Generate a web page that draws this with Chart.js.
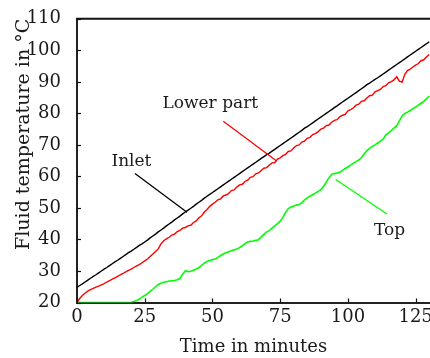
<!DOCTYPE html>
<html>
<head>
<meta charset="utf-8">
<script src="https://cdn.jsdelivr.net/npm/chart.js@4/dist/chart.umd.min.js"></script>
<style>
html,body{margin:0;padding:0;background:#fff;overflow:hidden;}
#wrap{width:430px;height:358px;}
</style>
</head>
<body>
<div id="wrap"><canvas id="c" width="430" height="358"></canvas></div>
<script>
// time in minutes
const minutes = [0,1,2,3,4,5,6,7,8,9,10,11,12,13,14,15,16,17,18,19,20,21,22,23,24,25,26,27,28,29,30,31,32,33,34,35,36,37,38,39,40,41,42,43,44,45,46,47,48,49,50,51,52,53,54,55,56,57,58,59,60,61,62,63,64,65,66,67,68,69,70,71,72,73,74,75,76,77,78,79,80,81,82,83,84,85,86,87,88,89,90,91,92,93,94,95,96,97,98,99,100,101,102,103,104,105,106,107,108,109,110,111,112,113,114,115,116,117,118,119,120,121,122,123,124,125,126,127,128,129,130];

const inlet = [24.8,25.4,25.9,26.5,27.1,27.7,28.3,28.8,29.4,30.0,30.6,31.1,31.7,32.3,32.9,33.4,34.0,34.6,35.2,35.8,36.3,36.9,37.5,38.1,38.6,39.2,39.8,40.5,41.1,41.7,42.4,43.0,43.6,44.3,44.9,45.5,46.2,46.8,47.4,48.1,48.7,49.3,49.9,50.5,51.2,51.8,52.4,53.1,53.7,54.3,54.9,55.5,56.1,56.7,57.3,57.9,58.5,59.1,59.7,60.3,60.9,61.5,62.1,62.7,63.3,63.9,64.5,65.1,65.7,66.3,66.9,67.4,68.0,68.6,69.2,69.8,70.4,71.0,71.6,72.2,72.8,73.4,74.0,74.6,75.3,75.8,76.4,77.0,77.6,78.2,78.8,79.4,80.0,80.6,81.2,81.8,82.4,83.0,83.6,84.2,84.8,85.4,86.0,86.6,87.2,87.8,88.4,89.1,89.6,90.2,90.8,91.3,91.9,92.5,93.1,93.7,94.3,94.9,95.5,96.1,96.7,97.3,97.9,98.5,99.1,99.7,100.3,100.9,101.5,102.1,102.7];

const lowerPart = [20.0,21.3,22.2,23.0,23.6,24.1,24.5,24.9,25.2,25.6,26.0,26.5,26.9,27.4,27.8,28.3,28.8,29.2,29.7,30.2,30.6,31.1,31.6,32.0,32.6,33.2,33.8,34.6,35.4,36.2,37.0,38.6,39.6,40.2,40.7,41.4,41.7,42.5,42.9,43.6,43.8,44.3,44.5,45.4,45.9,46.9,47.5,48.7,49.5,50.5,51.2,51.8,52.6,52.9,53.8,54.1,54.6,55.5,55.7,56.6,57.3,57.5,58.4,58.8,59.7,59.9,60.8,61.1,61.9,62.6,62.8,63.6,64.3,64.4,65.5,65.9,66.6,67.0,67.9,68.1,69.0,69.8,70.0,70.9,71.2,72.1,72.4,73.3,73.6,74.2,75.0,75.3,76.1,76.3,77.2,77.8,78.0,78.9,79.4,79.7,80.8,81.2,81.7,82.6,82.9,83.8,84.0,84.9,85.6,85.8,86.8,87.2,87.6,88.5,88.8,89.7,90.1,90.6,91.6,90.2,89.9,92.4,93.6,94.0,94.7,95.3,95.8,96.7,97.0,97.9,98.7];

const top_ = [20.0,20.0,20.0,20.0,20.0,20.0,20.0,20.0,20.0,20.0,20.0,20.0,20.0,20.0,20.0,20.0,20.0,20.0,20.0,20.0,20.1,20.3,20.6,21.1,21.7,22.2,22.8,23.5,24.2,25.0,25.7,26.1,26.4,26.6,26.8,26.9,27.0,27.2,27.6,29.0,30.1,29.8,29.9,30.2,30.6,31.1,31.8,32.5,33.0,33.3,33.6,33.8,34.3,34.9,35.4,35.8,36.1,36.4,36.7,37.0,37.4,38.0,38.7,39.2,39.4,39.5,39.7,39.9,40.8,41.6,42.4,42.8,43.6,44.3,45.0,45.8,47.0,48.6,49.8,50.3,50.6,50.9,51.1,51.7,52.6,53.2,53.7,54.2,54.7,55.2,55.8,56.8,58.2,59.6,60.6,60.9,61.1,61.3,61.9,62.5,63.0,63.6,64.2,64.7,65.2,66.0,67.1,68.2,68.9,69.5,70.0,70.6,71.2,71.8,73.2,73.8,74.5,75.3,76.0,77.6,79.2,80.0,80.4,80.9,81.5,82.0,82.6,83.2,83.8,84.6,85.5];

const seriesNames = ["Inlet", "Lower part", "Top"];
const xTicks = [0, 25, 50, 75, 100, 125];
const yTicks = [20, 30, 40, 50, 60, 70, 80, 90, 100, 110];

// callouts in data units
const callouts = [
  {text: "Inlet", color: "#000000", tx: 20.1, ty: 64.6, x1: 21.4, y1: 60.9, x2: 40.6, y2: 48.6},
  {text: "Lower part", color: "#ff0000", tx: 49.2, ty: 83.0, x1: 54.0, y1: 77.5, x2: 73.7, y2: 64.9},
  {text: "Top", color: "#00ff00", tx: 115.4, ty: 42.9, x1: 95.5, y1: 59.0, x2: 114.4, y2: 48.1}
];

const FONT = "'DejaVu Serif', serif";
const TXT = "#1a1a1a";

function pts(vals){ return minutes.map((m,i)=>({x:m, y:vals[i]})); }

const decor = {
  id: 'decor',
  afterDatasetsDraw(chart){
    const ctx = chart.ctx, a = chart.chartArea;
    const xs = chart.scales.x, ys = chart.scales.y;
    ctx.save();
    ctx.strokeStyle = "#111"; ctx.lineWidth = 2;
    ctx.beginPath(); ctx.moveTo(a.left - 1, a.top); ctx.lineTo(a.right, a.top); ctx.stroke();
    ctx.lineWidth = 1.2;
    xTicks.forEach(v=>{ const px = Math.round(xs.getPixelForValue(v)) + 0.5;
      ctx.beginPath(); ctx.moveTo(px, a.bottom); ctx.lineTo(px, a.bottom - 4); ctx.stroke(); });
    yTicks.forEach(v=>{ const py = Math.round(ys.getPixelForValue(v)) + 0.5;
      ctx.beginPath(); ctx.moveTo(a.left, py); ctx.lineTo(a.left + 4, py); ctx.stroke(); });
    ctx.font = "17px " + FONT; ctx.textAlign = "center"; ctx.textBaseline = "middle";
    callouts.forEach(c=>{
      ctx.strokeStyle = c.color; ctx.lineWidth = 1.3;
      ctx.beginPath();
      ctx.moveTo(xs.getPixelForValue(c.x1), ys.getPixelForValue(c.y1));
      ctx.lineTo(xs.getPixelForValue(c.x2), ys.getPixelForValue(c.y2));
      ctx.stroke();
      ctx.fillStyle = TXT;
      ctx.fillText(c.text, xs.getPixelForValue(c.tx), ys.getPixelForValue(c.ty));
    });
    ctx.restore();
  }
};

new Chart(document.getElementById('c'), {
  type: 'line',
  data: {
    datasets: [
      {label: seriesNames[0], data: pts(inlet), borderColor: "#000000", borderWidth: 1.4, pointRadius: 0, tension: 0},
      {label: seriesNames[1], data: pts(lowerPart), borderColor: "#ff0000", borderWidth: 1.4, pointRadius: 0, tension: 0},
      {label: seriesNames[2], data: pts(top_), borderColor: "#00ff00", borderWidth: 1.6, pointRadius: 0, tension: 0}
    ]
  },
  options: {
    responsive: false, animation: false, devicePixelRatio: 1,
    layout: {padding: {top: 17, left: 0, right: 0, bottom: 0}},
    plugins: {legend: {display: false}, tooltip: {enabled: false}},
    scales: {
      x: {
        type: 'linear', min: 0, max: 130.3,
        afterBuildTicks(s){ s.ticks = xTicks.map(v=>({value:v})); },
        afterFit(s){ s.height = 55.5; s.paddingRight = 0; s.paddingLeft = 0; },
        grid: {display: false, drawTicks: false},
        border: {display: true, color: "#222", width: 2},
        ticks: {font: {family: FONT, size: 18}, color: TXT, padding: 4},
        title: {display: true, text: "Time in minutes", font: {family: FONT, size: 18}, color: TXT, padding: {top: 6, bottom: 0}}
      },
      y: {
        type: 'linear', min: 20, max: 110,
        afterBuildTicks(s){ s.ticks = yTicks.map(v=>({value:v})); },
        afterFit(s){ s.width = 77; },
        grid: {display: false},
        border: {display: true, color: "#222", width: 2},
        ticks: {font: {family: FONT, size: 18}, color: TXT, padding: 8},
        title: {display: true, text: "Fluid temperature in °C", align: 'end', font: {family: FONT, size: 19}, color: TXT, padding: {top: 13, bottom: 0}}
      }
    }
  },
  plugins: [decor]
});
</script>
</body>
</html>
